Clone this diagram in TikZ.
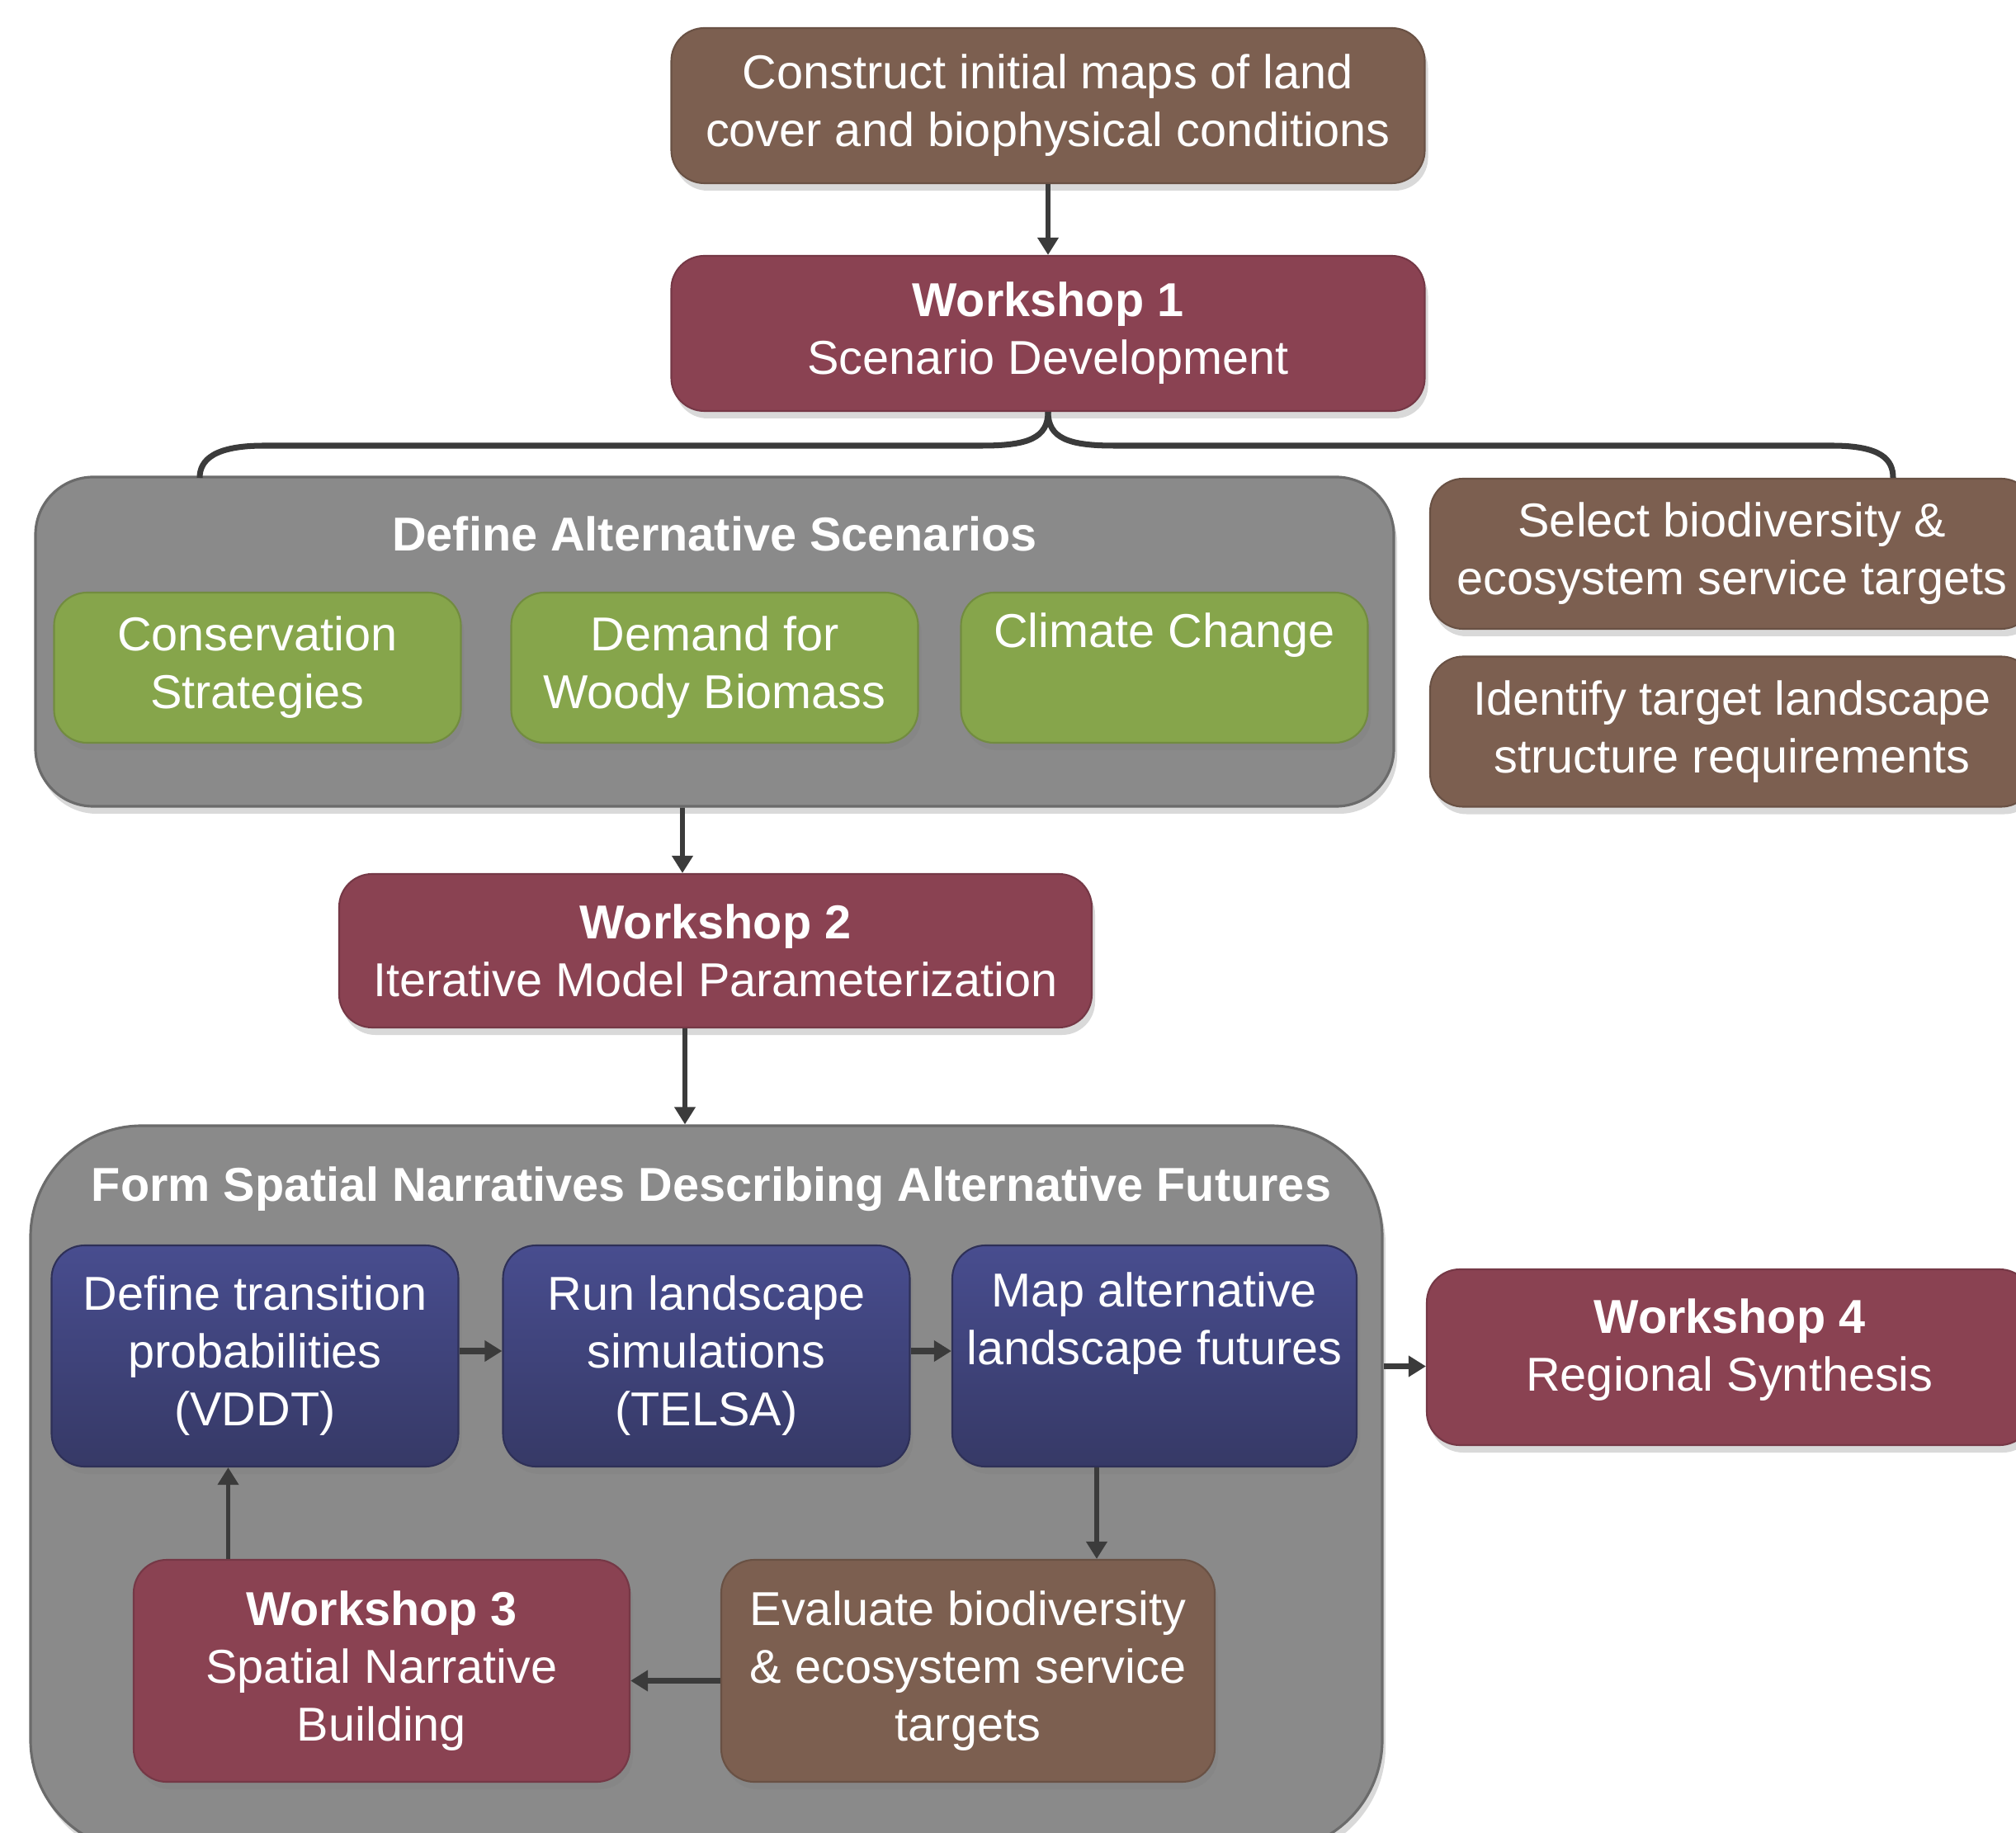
\documentclass[tikz,border=0pt]{standalone}
\usepackage{fontspec}
\setmainfont{Liberation Sans}
\usetikzlibrary{arrows.meta,shadows}

\definecolor{soil}{HTML}{7C5F50}
\definecolor{wine}{HTML}{8A4252}
\definecolor{leaf}{HTML}{86A54B}
\definecolor{navytop}{HTML}{484D8F}
\definecolor{navybot}{HTML}{363966}
\definecolor{panelgray}{HTML}{8A8A8A}
\definecolor{ink}{HTML}{3B3B3B}

\begin{document}
\begin{tikzpicture}[
		box/.style={rounded corners=0.4cm,draw=#1!85!black,line width=0.6pt,fill=#1,
			text=white,align=center,inner sep=0pt,
			font=\fontsize{16.4}{19.9}\selectfont,
			drop shadow={opacity=0.3,shadow xshift=0.4mm,shadow yshift=-0.9mm}},
		navybox/.style={rounded corners=0.4cm,draw=navybot!85!black,line width=0.6pt,
			top color=navytop,bottom color=navybot,
			text=white,align=center,inner sep=0pt,
			font=\fontsize{16.4}{19.9}\selectfont,
			drop shadow={opacity=0.3,shadow xshift=0.4mm,shadow yshift=-0.9mm},
			minimum width=4.93cm,minimum height=2.68cm},
		greenbox/.style={box=leaf,minimum width=4.93cm,minimum height=1.82cm},
		wide/.style={minimum width=9.13cm,minimum height=1.88cm},
		side/.style={minimum width=7.32cm,minimum height=1.82cm},
		panel/.style={rounded corners=#1,fill=panelgray,draw=black!58,line width=0.9pt,
			drop shadow={opacity=0.3,shadow xshift=0.4mm,shadow yshift=-0.9mm}},
		paneltitle/.style={text=white,font=\fontsize{16.4}{19.9}\selectfont\bfseries},
		arr/.style={-{Triangle[length=6pt,width=7pt]},draw=ink,line width=1.6pt},
		brace/.style={draw=ink,line width=2pt}
	]

	\useasboundingbox (0,0) rectangle (24.43,-22.21);

	% panels
	\node[panel=0.7cm,minimum width=16.46cm,minimum height=3.99cm] (scen) at (8.66,-7.775) {};
	\node[panel=1.35cm,minimum width=16.38cm,minimum height=8.79cm] (futures) at (8.56,-18.035) {};

	\node[paneltitle] (scentitle) at (8.66,-6.47) {Define Alternative Scenarios};
	\node[paneltitle] (futtitle) at (8.62,-14.41) {Form Spatial Narratives Describing Alternative Futures};

	% top
	\node[box=soil,wide] (init) at (12.70,-1.28) {Construct initial maps of land\\cover and biophysical conditions};
	\node[box=wine,wide] (ws1) at (12.70,-4.04) {\textbf{Workshop 1}\\Scenario Development};

	% scenarios
	\node[greenbox] (cons) at (3.12,-8.09) {Conservation\\Strategies};
	\node[greenbox] (demand) at (8.66,-8.09) {Demand for\\Woody Biomass};
	\node[greenbox] (climate) at (14.11,-8.09) {Climate Change\\\strut};

	\node[box=soil,side] (select) at (20.99,-6.71) {Select biodiversity \&\\ecosystem service targets};
	\node[box=soil,side] (ident) at (20.99,-8.865) {Identify target landscape\\structure requirements};

	\node[box=wine,minimum width=9.12cm,minimum height=1.86cm] (ws2) at (8.67,-11.52) {\textbf{Workshop 2}\\Iterative Model Parameterization};

	% futures
	\node[navybox] (trans) at (3.09,-16.43) {Define transition\\probabilities\\(VDDT)};
	\node[navybox] (telsa) at (8.56,-16.43) {Run landscape\\simulations\\(TELSA)};
	\node[navybox,minimum width=4.90cm] (mapfut) at (13.99,-16.43) {Map alternative\\landscape futures\\\strut};

	\node[box=wine,minimum width=6.01cm,minimum height=2.69cm] (ws3) at (4.625,-20.245) {\textbf{Workshop 3}\\Spatial Narrative\\Building};
	\node[box=soil,minimum width=5.98cm,minimum height=2.69cm] (eval) at (11.73,-20.245) {Evaluate biodiversity\\\& ecosystem service\\targets};

	\node[box=wine,minimum width=7.34cm,minimum height=2.13cm] (ws4) at (20.96,-16.445) {\textbf{Workshop 4}\\Regional Synthesis\rule[-0.3cm]{0pt}{0pt}};

	% brace
	\coordinate (bl) at (2.42,-5.79);
	\coordinate (br) at (22.94,-5.79);
	\draw[brace] (ws1.south) .. controls +(0,-0.32) and +(0.55,0) .. (11.90,-5.40) -- (3.20,-5.40)
		.. controls +(-0.6,0) and +(0,0.22) .. (bl);
	\draw[brace] (ws1.south) .. controls +(0,-0.32) and +(-0.55,0) .. (13.50,-5.40) -- (22.20,-5.40)
		.. controls +(0.6,0) and +(0,0.22) .. (br);

	% arrows
	\draw[arr] (init) -- (ws1);
	\draw[arr] ([xshift=-3.9mm]scen.south) -- ([xshift=-4mm]ws2.north);
	\draw[arr] ([xshift=-3.7mm]ws2.south) -- ([xshift=-3.7mm]ws2.south |- futures.north);
	\draw[arr,line width=2pt] ([yshift=0.6mm]trans.east) -- ([yshift=0.6mm]telsa.west);
	\draw[arr,line width=2pt] ([yshift=0.6mm]telsa.east) -- ([yshift=0.6mm]mapfut.west);
	\draw[arr,line width=2pt] ([yshift=-1.1mm]ws4.west -| futures.east) -- ([yshift=-1.1mm]ws4.west);
	\draw[arr] ([xshift=-7mm]mapfut.south) -- ([xshift=-7mm]mapfut.south |- eval.north);
	\draw[arr,line width=2.2pt] ([yshift=-1.2mm]eval.west) -- ([yshift=-1.2mm]ws3.east);
	\draw[arr] ([xshift=-18.6mm]ws3.north) -- ([xshift=-18.6mm]ws3.north |- trans.south);

\end{tikzpicture}
\end{document}
